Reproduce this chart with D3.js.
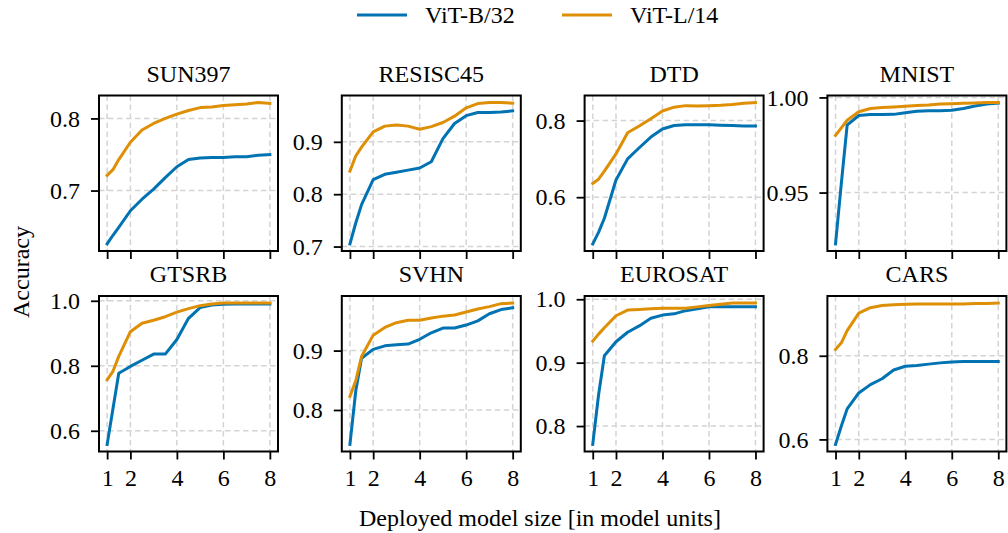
<!DOCTYPE html>
<html>
<head>
<meta charset="utf-8">
<script src="https://cdn.jsdelivr.net/npm/d3@7"></script>
<style>
  html, body { margin: 0; padding: 0; background: #fff; }
  svg { display: block; font-family: "Liberation Serif", "Times New Roman", Times, serif; }
</style>
</head>
<body>
<svg id="chart" width="1008" height="533"></svg>
<script>
// ---------------- data ----------------
const seriesNames = ["ViT-B/32", "ViT-L/14"];
const seriesColors = ["#0173b2", "#de8f05"];
const datasets = ["SUN397", "RESISC45", "DTD", "MNIST", "GTSRB", "SVHN", "EUROSAT", "CARS"];
const modelSizes = [1, 1.25, 1.5, 2, 2.5, 3, 3.5, 4, 4.5, 5, 5.5, 6, 6.5, 7, 7.5, 8];
const xTickValues = [1, 2, 4, 6, 8];

const sun397_B32   = [0.626, 0.638, 0.649, 0.672, 0.688, 0.702, 0.718, 0.733, 0.743, 0.745, 0.746, 0.746, 0.747, 0.747, 0.749, 0.750];
const sun397_L14   = [0.721, 0.729, 0.743, 0.767, 0.784, 0.793, 0.800, 0.806, 0.811, 0.815, 0.816, 0.818, 0.819, 0.820, 0.822, 0.821];
const resisc45_B32 = [0.705, 0.745, 0.780, 0.828, 0.838, 0.842, 0.846, 0.850, 0.862, 0.906, 0.935, 0.950, 0.956, 0.956, 0.957, 0.959];
const resisc45_L14 = [0.844, 0.873, 0.890, 0.919, 0.930, 0.932, 0.930, 0.924, 0.929, 0.937, 0.949, 0.965, 0.973, 0.975, 0.975, 0.974];
const dtd_B32      = [0.478, 0.508, 0.545, 0.645, 0.700, 0.729, 0.757, 0.778, 0.787, 0.789, 0.789, 0.789, 0.788, 0.787, 0.786, 0.786];
const dtd_L14      = [0.636, 0.647, 0.668, 0.713, 0.768, 0.786, 0.805, 0.825, 0.835, 0.839, 0.838, 0.839, 0.840, 0.842, 0.845, 0.847];
const mnist_B32    = [0.923, 0.955, 0.9855, 0.9905, 0.991, 0.991, 0.9911, 0.992, 0.9927, 0.993, 0.993, 0.9933, 0.9942, 0.9955, 0.9965, 0.997];
const mnist_L14    = [0.980, 0.984, 0.988, 0.9925, 0.9942, 0.9947, 0.995, 0.9953, 0.9957, 0.996, 0.9965, 0.9967, 0.9969, 0.9971, 0.9973, 0.9973];
const gtsrb_B32    = [0.558, 0.668, 0.777, 0.798, 0.817, 0.836, 0.836, 0.881, 0.946, 0.979, 0.987, 0.989, 0.990, 0.990, 0.990, 0.990];
const gtsrb_L14    = [0.757, 0.783, 0.829, 0.905, 0.931, 0.940, 0.951, 0.965, 0.976, 0.985, 0.990, 0.993, 0.993, 0.993, 0.993, 0.993];
const svhn_B32     = [0.742, 0.832, 0.887, 0.902, 0.908, 0.910, 0.911, 0.919, 0.930, 0.938, 0.938, 0.943, 0.950, 0.962, 0.969, 0.972];
const svhn_L14     = [0.823, 0.849, 0.890, 0.926, 0.939, 0.947, 0.951, 0.951, 0.955, 0.958, 0.960, 0.965, 0.970, 0.974, 0.979, 0.980];
const eurosat_B32  = [0.771, 0.849, 0.911, 0.933, 0.948, 0.958, 0.970, 0.975, 0.977, 0.982, 0.985, 0.988, 0.988, 0.988, 0.988, 0.988];
const eurosat_L14  = [0.934, 0.945, 0.955, 0.974, 0.983, 0.984, 0.985, 0.986, 0.986, 0.986, 0.988, 0.990, 0.992, 0.994, 0.994, 0.994];
const cars_B32     = [0.588, 0.632, 0.673, 0.711, 0.731, 0.745, 0.766, 0.775, 0.777, 0.780, 0.783, 0.785, 0.786, 0.786, 0.786, 0.786];
const cars_L14     = [0.815, 0.831, 0.860, 0.902, 0.915, 0.920, 0.922, 0.923, 0.924, 0.924, 0.924, 0.924, 0.924, 0.925, 0.925, 0.926];

const yTickLabels = {
  SUN397:   ["0.7", "0.8"],
  RESISC45: ["0.7", "0.8", "0.9"],
  DTD:      ["0.6", "0.8"],
  MNIST:    ["0.95", "1.00"],
  GTSRB:    ["0.6", "0.8", "1.0"],
  SVHN:     ["0.8", "0.9"],
  EUROSAT:  ["0.8", "0.9", "1.0"],
  CARS:     ["0.6", "0.8"]
};

const seriesByDataset = {
  SUN397: [sun397_B32, sun397_L14],
  RESISC45: [resisc45_B32, resisc45_L14],
  DTD: [dtd_B32, dtd_L14],
  MNIST: [mnist_B32, mnist_L14],
  GTSRB: [gtsrb_B32, gtsrb_L14],
  SVHN: [svhn_B32, svhn_L14],
  EUROSAT: [eurosat_B32, eurosat_L14],
  CARS: [cars_B32, cars_L14]
};

// ---------------- layout ----------------
const svg = d3.select("#chart");
const FONT = 24;
const FAMILY = '"Liberation Serif", "Times New Roman", Times, serif';
const plotW = 179, plotH = 155.5;
const colLeft0 = 99, colStep = 242.8;
const rowTops = [95.5, 296];
const tickLen = 8;
const gridColor = "#d4d4d4";

datasets.forEach((name, i) => {
  const row = Math.floor(i / 4), col = i % 4;
  const left = colLeft0 + col * colStep;
  const top = rowTops[row];
  const g = svg.append("g").attr("transform", `translate(${left},${top})`);

  const x = d3.scaleLinear().domain([0.65, 8.35]).range([0, plotW]);
  const all = seriesByDataset[name].flat();
  const lo = d3.min(all), hi = d3.max(all), pad = (hi - lo) * 0.05;
  const y = d3.scaleLinear().domain([lo - pad, hi + pad]).range([plotH, 0]);
  const yTicks = yTickLabels[name].map(Number);

  // grid
  g.append("g").selectAll("line").data(xTickValues).join("line")
    .attr("x1", d => x(d)).attr("x2", d => x(d)).attr("y1", 0).attr("y2", plotH)
    .attr("stroke", gridColor).attr("stroke-width", 1.5).attr("stroke-dasharray", "5.5,3.5");
  g.append("g").selectAll("line").data(yTicks).join("line")
    .attr("x1", 0).attr("x2", plotW).attr("y1", d => y(d)).attr("y2", d => y(d))
    .attr("stroke", gridColor).attr("stroke-width", 1.5).attr("stroke-dasharray", "5.5,3.5");

  // lines
  const line = d3.line().x((d, k) => x(modelSizes[k])).y(d => y(d));
  seriesByDataset[name].forEach((vals, s) => {
    g.append("path").datum(vals).attr("d", line)
      .attr("fill", "none").attr("stroke", seriesColors[s])
      .attr("stroke-width", 3).attr("stroke-linejoin", "round").attr("stroke-linecap", "square");
  });

  // axes
  const xAxis = d3.axisBottom(x).tickValues(xTickValues).tickSize(tickLen).tickPadding(9)
    .tickFormat(row === 1 ? d3.format("d") : () => "");
  const gx = g.append("g").attr("transform", `translate(0,${plotH})`).call(xAxis);
  const yAxis = d3.axisLeft(y).tickValues(yTicks).tickSize(tickLen).tickPadding(11)
    .tickFormat((d, k) => yTickLabels[name][k]);
  const gy = g.append("g").call(yAxis);
  [gx, gy].forEach(ax => {
    ax.attr("font-family", FAMILY).attr("font-size", FONT);
    ax.select(".domain").remove();
    ax.selectAll("line").attr("stroke", "#000").attr("stroke-width", 1.8);
    ax.selectAll("text").attr("fill", "#000");
  });

  // frame
  g.append("rect").attr("x", 0).attr("y", 0).attr("width", plotW).attr("height", plotH)
    .attr("fill", "none").attr("stroke", "#000").attr("stroke-width", 2);

  // title
  g.append("text").attr("x", plotW / 2).attr("y", -14).attr("text-anchor", "middle")
    .attr("font-family", FAMILY).attr("font-size", FONT).text(name);
});

// legend
const legendItems = [{ x: 357 }, { x: 562 }];
seriesNames.forEach((n, s) => {
  const lx = legendItems[s].x;
  svg.append("line").attr("x1", lx).attr("x2", lx + 50).attr("y1", 15).attr("y2", 15)
    .attr("stroke", seriesColors[s]).attr("stroke-width", 3);
  svg.append("text").attr("x", lx + 68).attr("y", 23).attr("font-family", FAMILY)
    .attr("font-size", FONT).text(n);
});

// axis labels
svg.append("text").attr("x", 540).attr("y", 526).attr("text-anchor", "middle")
  .attr("font-family", FAMILY).attr("font-size", FONT).text("Deployed model size [in model units]");
svg.append("text").attr("transform", "translate(29,272) rotate(-90)").attr("text-anchor", "middle")
  .attr("font-family", FAMILY).attr("font-size", FONT).text("Accuracy");
</script>
</body>
</html>
